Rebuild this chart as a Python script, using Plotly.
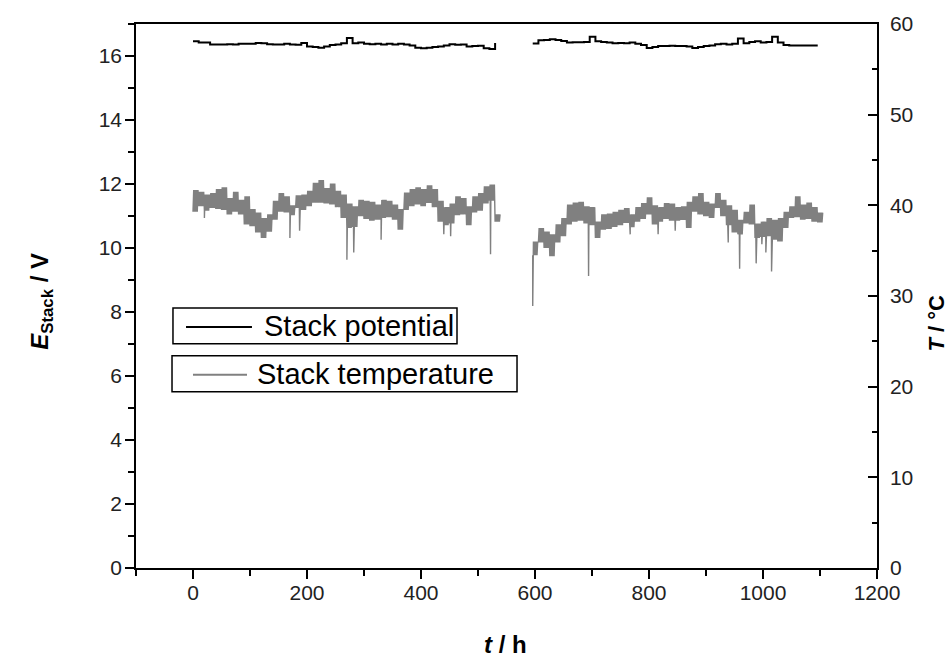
import plotly.graph_objects as go

# ---------------- data ----------------
# Stack potential / V, segment 1 (t = 0 .. 530 h, every 10 h)
pot1_t0 = 0
pot1 = [16.46, 16.42, 16.42, 16.36, 16.36, 16.36, 16.37, 16.36, 16.38, 16.38,
        16.38, 16.41, 16.40, 16.37, 16.36, 16.36, 16.38, 16.36, 16.35, 16.41,
        16.30, 16.28, 16.26, 16.30, 16.34, 16.36, 16.40, 16.56, 16.40, 16.42,
        16.38, 16.37, 16.38, 16.36, 16.38, 16.36, 16.38, 16.36, 16.33, 16.26,
        16.24, 16.26, 16.28, 16.30, 16.33, 16.37, 16.35, 16.36, 16.30, 16.31,
        16.32, 16.24, 16.22, 16.41]
# Stack potential / V, segment 2 (t = 596 .. 1096 h, every 10 h)
pot2_t0 = 596
pot2 = [16.39, 16.49, 16.50, 16.52, 16.50, 16.47, 16.42, 16.43, 16.43, 16.44,
        16.60, 16.46, 16.44, 16.42, 16.40, 16.41, 16.40, 16.42, 16.38, 16.34,
        16.25, 16.28, 16.31, 16.31, 16.32, 16.31, 16.31, 16.30, 16.25, 16.28,
        16.31, 16.33, 16.37, 16.38, 16.36, 16.38, 16.55, 16.40, 16.44, 16.46,
        16.42, 16.44, 16.60, 16.42, 16.34, 16.33, 16.33, 16.33, 16.33, 16.33,
        16.33]

# Stack temperature / degC: lower and upper edge of the noisy band, every 10 h
tmp1_t0 = 0
tmp1_lo = [39.3, 39.9, 39.4, 39.7, 39.6, 39.5, 39.0, 39.3, 39.0, 37.9,
           37.7, 37.0, 36.4, 37.1, 38.4, 39.3, 39.2, 38.9, 39.7, 39.5,
           39.9, 40.3, 40.3, 40.2, 40.1, 39.8, 38.6, 37.5, 37.6, 38.8,
           38.5, 38.3, 38.4, 38.6, 38.7, 38.4, 37.3, 39.5, 39.9, 40.1,
           39.9, 40.25, 39.8, 38.2, 37.8, 38.0, 38.9, 39.0, 37.8, 39.2,
           39.4, 40.2, 40.5, 38.2]
tmp1_hi = [41.7, 41.5, 41.2, 41.35, 41.8, 42.0, 40.8, 41.5, 40.6, 41.0,
           39.6, 39.2, 38.6, 39.0, 40.5, 41.35, 41.0, 40.0, 41.1, 41.2,
           41.6, 42.5, 42.8, 41.9, 42.4, 41.6, 41.2, 40.2, 39.9, 40.6,
           40.5, 40.4, 40.1, 40.6, 40.5, 40.1, 39.6, 41.4, 41.8, 42.0,
           41.8, 42.2, 41.8, 40.5, 39.8, 40.2, 41.0, 40.8, 39.9, 41.0,
           41.35, 42.1, 42.3, 39.0]
# narrow downward spikes (time / h, temperature / degC)
tmp1_spike_t = [20, 170, 187, 270, 282, 330, 440, 452, 522]
tmp1_spike_v = [38.6, 36.4, 37.2, 34.0, 34.8, 36.2, 36.8, 36.6, 34.6]

tmp2_t0 = 596
tmp2_lo = [34.5, 35.9, 35.3, 34.4, 35.9, 36.6, 37.9, 38.2, 38.3, 38.0,
           37.8, 36.4, 37.3, 37.4, 37.6, 37.8, 38.05, 37.6, 38.2, 38.5,
           39.0, 37.9, 38.2, 38.5, 38.3, 38.3, 38.4, 37.5, 39.3, 39.0,
           38.8, 38.6, 39.7, 38.8, 37.8, 37.0, 36.8, 38.0, 37.9, 36.4,
           36.5, 36.6, 36.2, 36.0, 37.5, 38.6, 38.7, 38.4, 38.5, 38.2,
           38.1]
tmp2_hi = [36.0, 37.5, 37.1, 36.8, 37.9, 38.6, 40.1, 40.3, 40.4, 39.9,
           39.8, 38.2, 39.0, 39.1, 39.3, 39.5, 39.7, 39.0, 39.8, 40.25,
           40.9, 40.0, 39.8, 40.25, 40.2, 39.8, 39.9, 40.4, 41.0, 41.35,
           40.4, 40.2, 41.35, 40.6, 40.0, 39.5, 38.4, 39.3, 40.1, 38.0,
           38.2, 38.6, 38.4, 38.6, 39.3, 39.9, 41.0, 40.1, 40.3, 39.8,
           39.2]
tmp2_spike_t = [596, 694, 767, 816, 846, 939, 959, 988, 998, 1005, 1015]
tmp2_spike_v = [28.9, 32.2, 36.8, 36.8, 37.2, 35.9, 33.0, 33.6, 35.7, 34.8, 32.7]

x_ticks = [0, 200, 400, 600, 800, 1000, 1200]
yl_ticks = [0, 2, 4, 6, 8, 10, 12, 14, 16]
yr_ticks = [0, 10, 20, 30, 40, 50, 60]

STEP = 10
SUB = 8  # alternations of the noisy band inside one step


def seg_line(t0, vals):
    return [t0 + STEP * i for i in range(len(vals))], list(vals)


def seg_band(t0, lo, hi, sp_t, sp_v):
    pts = []
    for i, (a, b) in enumerate(zip(lo, hi)):
        for j in range(SUB):
            pts.append((t0 + STEP * i + STEP * j / SUB, a if j % 2 == 0 else b))
    pts += list(zip(sp_t, sp_v))
    pts.sort(key=lambda p: p[0])
    return [p[0] for p in pts], [p[1] for p in pts]


px1, py1 = seg_line(pot1_t0, pot1)
px2, py2 = seg_line(pot2_t0, pot2)
pot_x = px1 + [None] + px2
pot_y = py1 + [None] + py2

tx1, ty1 = seg_band(tmp1_t0, tmp1_lo, tmp1_hi, tmp1_spike_t, tmp1_spike_v)
tx2, ty2 = seg_band(tmp2_t0, tmp2_lo, tmp2_hi, tmp2_spike_t, tmp2_spike_v)
tmp_x = tx1 + [None] + tx2
tmp_y = ty1 + [None] + ty2

FONT = "Liberation Sans, Arial, sans-serif"

fig = go.Figure()
fig.add_trace(go.Scatter(x=pot_x, y=pot_y, mode="lines", name="Stack potential",
                         line=dict(color="black", width=2, shape="hv"), connectgaps=False,
                         showlegend=False))
fig.add_trace(go.Scatter(x=tmp_x, y=tmp_y, mode="lines", name="Stack temperature",
                         line=dict(color="#808080", width=1.4), connectgaps=False,
                         yaxis="y2", showlegend=False))

axis_common = dict(showline=True, linecolor="black", linewidth=1.5,
                   tickcolor="black", tickwidth=1.5, showgrid=False, zeroline=False,
                   tickfont=dict(family=FONT, size=21, color="#222"))

fig.update_layout(
    width=950, height=657,
    margin=dict(l=136, r=73, t=22, b=89),
    paper_bgcolor="white", plot_bgcolor="white",
    font=dict(family=FONT, color="black"),
    xaxis=dict(range=[-100, 1200], tickvals=x_ticks, ticks="outside", ticklen=9,
               mirror=True, ticklabelstandoff=-4,
               minor=dict(dtick=100, tick0=0, ticks="outside", ticklen=6,
                          tickcolor="black", tickwidth=1.5),
               **axis_common),
    yaxis=dict(range=[0, 17], tickvals=yl_ticks, ticks="outside", ticklen=9,
               ticklabelstandoff=-1,
               minor=dict(dtick=1, tick0=0, ticks="outside", ticklen=6,
                          tickcolor="black", tickwidth=1.5),
               **axis_common),
    yaxis2=dict(range=[0, 60], tickvals=yr_ticks, ticks="inside", ticklen=9,
                overlaying="y", side="right", ticklabelstandoff=7,
                minor=dict(dtick=5, tick0=0, ticks="inside", ticklen=5,
                           tickcolor="black", tickwidth=1.5),
                **axis_common),
)

# axis titles
fig.add_annotation(text="<b><i>t</i> / h</b>", xref="paper", yref="paper",
                   x=0.498, y=-0.14, xanchor="center", yanchor="middle", showarrow=False,
                   font=dict(family=FONT, size=24, color="black"))
fig.add_annotation(text="<b><i>E</i><sub>Stack</sub> / V</b>", xref="paper", yref="paper",
                   x=-0.127, y=0.491, xanchor="center", yanchor="middle",
                   showarrow=False, textangle=-90,
                   font=dict(family=FONT, size=24, color="black"))
fig.add_annotation(text="<b><i>T</i> / °C</b>", xref="paper", yref="paper",
                   x=1.08, y=0.45, xanchor="center", yanchor="middle",
                   showarrow=False, textangle=-90,
                   font=dict(family=FONT, size=22, color="black"))

# legend boxes (two separate framed entries)
legend_items = [
    dict(name="Stack potential", color="black", box=(0.0499, 0.4121, 0.4332, 0.478),
         line=(0.0675, 0.1565, 0.4432), text=(0.170, 0.445)),
    dict(name="Stack temperature", color="#808080", box=(0.0486, 0.3242, 0.5142, 0.3901),
         line=(0.0769, 0.1498, 0.3553), text=(0.1606, 0.357)),
]
for it in legend_items:
    x0, y0, x1, y1 = it["box"]
    fig.add_shape(type="rect", xref="paper", yref="paper", x0=x0, y0=y0, x1=x1, y1=y1,
                  line=dict(color="black", width=1.5), fillcolor="white")
    lx0, lx1, ly = it["line"]
    fig.add_shape(type="line", xref="paper", yref="paper", x0=lx0, x1=lx1, y0=ly, y1=ly,
                  line=dict(color=it["color"], width=2))
    fig.add_annotation(text=it["name"], xref="paper", yref="paper",
                       x=it["text"][0], y=it["text"][1], xanchor="left", yanchor="middle",
                       showarrow=False, font=dict(family=FONT, size=29, color="black"))

fig.write_html("out.html")
